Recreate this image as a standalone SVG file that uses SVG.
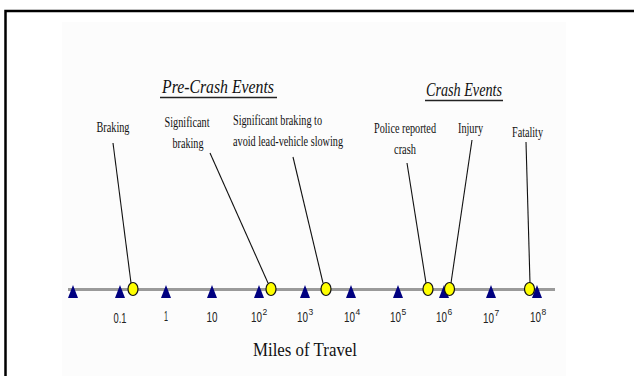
<svg xmlns="http://www.w3.org/2000/svg" width="634" height="376" viewBox="0 0 634 376">
  <defs>
    <style>
      .lbl { font-family: "Liberation Serif", "Times New Roman", serif; font-size: 14px; fill: #111; text-anchor: middle; }
      .head { font-family: "Liberation Serif", "Times New Roman", serif; font-size: 19px; font-style: italic; fill: #111; text-anchor: middle; }
      .tick { font-family: "Liberation Sans", Arial, sans-serif; font-size: 14px; fill: #222; }
      .tick .c { text-anchor: middle; }
      .sup { font-family: "Liberation Sans", Arial, sans-serif; font-size: 8.5px; fill: #222; }
      .title { font-family: "Liberation Serif", "Times New Roman", serif; font-size: 19px; fill: #111; text-anchor: middle; }
      .leader { stroke: #111; stroke-width: 1.1; fill: none; }
      .event { fill: #ffff00; stroke: #111; stroke-width: 1.2; }
      .mark { fill: #000080; }
    </style>
    <polygon id="tri" points="-5,7 5,7 0,-6"/>
  </defs>

  <rect width="634" height="376" fill="#ffffff"/>
  <!-- frame -->
  <path d="M5.5 376 V11 H634" fill="none" stroke="#000" stroke-width="2.5"/>
  <!-- chart panel -->
  <rect x="62" y="22" width="504" height="354" fill="#fcfcfc"/>

  <!-- section headings -->
  <g id="heading-precrash">
    <text class="head" x="218" y="93" textLength="112" lengthAdjust="spacingAndGlyphs">Pre-Crash Events</text>
    <line x1="160" y1="97.5" x2="277" y2="97.5" stroke="#222" stroke-width="1.6"/>
  </g>
  <g id="heading-crash">
    <text class="head" x="464" y="96" textLength="76" lengthAdjust="spacingAndGlyphs">Crash Events</text>
    <line x1="425" y1="100.5" x2="503" y2="100.5" stroke="#222" stroke-width="1.6"/>
  </g>

  <!-- axis -->
  <g id="axis">
    <line x1="68" y1="289.5" x2="555" y2="289.5" stroke="#9a9a9a" stroke-width="3"/>
    <g class="mark">
      <use href="#tri" x="73" y="291"/>
      <use href="#tri" x="120" y="291"/>
      <use href="#tri" x="166" y="291"/>
      <use href="#tri" x="212" y="291"/>
      <use href="#tri" x="259" y="291"/>
      <use href="#tri" x="305" y="291"/>
      <use href="#tri" x="351" y="291"/>
      <use href="#tri" x="398" y="291"/>
      <use href="#tri" x="444" y="291"/>
      <use href="#tri" x="491" y="291"/>
      <use href="#tri" x="537" y="291"/>
    </g>
    <g class="tick">
      <text class="c" x="120" y="323" textLength="13" lengthAdjust="spacingAndGlyphs">0.1</text>
      <text class="c" x="166" y="321" textLength="4" lengthAdjust="spacingAndGlyphs">1</text>
      <text class="c" x="212" y="322" textLength="11" lengthAdjust="spacingAndGlyphs">10</text>
      <text x="251" y="322" textLength="11" lengthAdjust="spacingAndGlyphs">10</text>
      <text x="297" y="322" textLength="11" lengthAdjust="spacingAndGlyphs">10</text>
      <text x="344" y="322" textLength="11" lengthAdjust="spacingAndGlyphs">10</text>
      <text x="390" y="322" textLength="11" lengthAdjust="spacingAndGlyphs">10</text>
      <text x="436" y="322" textLength="11" lengthAdjust="spacingAndGlyphs">10</text>
      <text x="483" y="323" textLength="11" lengthAdjust="spacingAndGlyphs">10</text>
      <text x="530" y="322" textLength="11" lengthAdjust="spacingAndGlyphs">10</text>
    </g>
    <g class="sup">
      <text x="262.5" y="315">2</text>
      <text x="308.5" y="315">3</text>
      <text x="355.5" y="315">4</text>
      <text x="401.5" y="315">5</text>
      <text x="447.5" y="315">6</text>
      <text x="494.5" y="316">7</text>
      <text x="541.5" y="315">8</text>
    </g>
    <text class="title" x="305" y="356" textLength="104" lengthAdjust="spacingAndGlyphs">Miles of Travel</text>
  </g>

  <!-- leaders from labels to event markers -->
  <g id="connectors" class="leader">
    <line x1="113" y1="143" x2="131" y2="283"/>
    <line x1="210" y1="153" x2="268" y2="283"/>
    <line x1="293" y1="157" x2="323" y2="283"/>
    <line x1="407" y1="163" x2="426" y2="283"/>
    <line x1="472" y1="140" x2="451" y2="283"/>
    <line x1="526" y1="142" x2="530" y2="283"/>
  </g>

  <!-- events -->
  <g id="ev-braking">
    <text class="lbl" x="113" y="132" textLength="33" lengthAdjust="spacingAndGlyphs">Braking</text>
    <ellipse class="event" cx="133" cy="289" rx="5" ry="6.5"/>
  </g>
  <g id="ev-significant-braking">
    <text class="lbl" x="187" y="127" textLength="45" lengthAdjust="spacingAndGlyphs">Significant</text>
    <text class="lbl" x="188" y="148" textLength="31" lengthAdjust="spacingAndGlyphs">braking</text>
    <ellipse class="event" cx="271" cy="289" rx="5" ry="6.5"/>
  </g>
  <g id="ev-lead-vehicle">
    <text class="lbl" x="277.5" y="125" textLength="89" lengthAdjust="spacingAndGlyphs">Significant braking to</text>
    <text class="lbl" x="288" y="146" textLength="110" lengthAdjust="spacingAndGlyphs">avoid lead-vehicle slowing</text>
    <ellipse class="event" cx="326" cy="289" rx="5" ry="6.5"/>
  </g>
  <g id="ev-police">
    <text class="lbl" x="405" y="133" textLength="62" lengthAdjust="spacingAndGlyphs">Police reported</text>
    <text class="lbl" x="405" y="154" textLength="22" lengthAdjust="spacingAndGlyphs">crash</text>
    <ellipse class="event" cx="428" cy="289" rx="5" ry="6.5"/>
  </g>
  <g id="ev-injury">
    <text class="lbl" x="470.5" y="133" textLength="25" lengthAdjust="spacingAndGlyphs">Injury</text>
    <ellipse class="event" cx="449.5" cy="289" rx="5" ry="6.5"/>
  </g>
  <g id="ev-fatality">
    <text class="lbl" x="527.5" y="137" textLength="31" lengthAdjust="spacingAndGlyphs">Fatality</text>
    <ellipse class="event" cx="529.5" cy="289" rx="5" ry="6.5"/>
  </g>
</svg>
